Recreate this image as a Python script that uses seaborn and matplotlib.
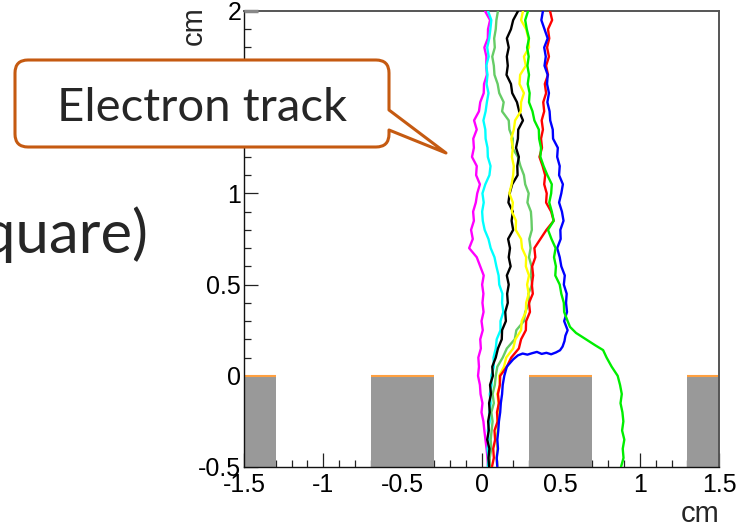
import numpy as np
import pandas as pd
import matplotlib
matplotlib.use("Agg")
import matplotlib.pyplot as plt
from matplotlib.path import Path
from matplotlib.patches import PathPatch
from matplotlib.ticker import MultipleLocator
import seaborn as sns

# ---------------- data ----------------
y_grid = [2.00, 1.95, 1.90, 1.85, 1.80, 1.75, 1.70, 1.65, 1.60, 1.55, 1.50, 1.45, 1.40,
          1.35, 1.30, 1.25, 1.20, 1.15, 1.10, 1.05, 1.00, 0.95, 0.90, 0.85, 0.80, 0.75,
          0.70, 0.65, 0.60, 0.55, 0.50, 0.45, 0.40, 0.35, 0.30, 0.25, 0.20, 0.15, 0.10,
          0.05, 0.00, -0.05, -0.10, -0.15, -0.20, -0.25, -0.30, -0.35, -0.40, -0.45, -0.50]

magenta_x = [0.022, 0.054, 0.041, 0.040, 0.018, 0.031, 0.030, 0.034, 0.016, 0.014,
             -0.008, -0.016, -0.047, -0.030, -0.052, -0.048, -0.060, -0.030, -0.034, -0.010,
             -0.027, -0.036, -0.053, -0.048, -0.066, -0.055, -0.078, -0.030, -0.008, 0.014,
             0.004, 0.012, 0.006, 0.013, 0.000, 0.008, -0.008, -0.004, -0.020, -0.016,
             -0.022, -0.010, -0.006, 0.006, 0.000, 0.012, 0.018, 0.025, 0.032, 0.038, 0.041]

cyan_x = [0.041, 0.062, 0.056, 0.049, 0.036, 0.045, 0.030, 0.038, 0.032, 0.044,
          0.034, 0.026, 0.012, 0.024, 0.026, 0.038, 0.040, 0.057, 0.050, 0.024,
          0.006, 0.014, 0.004, 0.008, 0.020, 0.044, 0.058, 0.082, 0.094, 0.108,
          0.112, 0.132, 0.130, 0.138, 0.120, 0.120, 0.096, 0.090, 0.076, 0.078,
          0.062, 0.064, 0.052, 0.058, 0.050, 0.052, 0.040, 0.046, 0.038, 0.044, 0.040]

lightgreen_x = [0.104, 0.094, 0.090, 0.080, 0.084, 0.068, 0.078, 0.082, 0.102, 0.112,
                0.140, 0.130, 0.172, 0.176, 0.198, 0.194, 0.230, 0.246, 0.268, 0.276,
                0.298, 0.290, 0.312, 0.316, 0.318, 0.302, 0.310, 0.300, 0.316, 0.312,
                0.320, 0.296, 0.302, 0.276, 0.268, 0.220, 0.210, 0.160, 0.134, 0.100,
                0.090, 0.084, 0.070, 0.078, 0.062, 0.070, 0.064, 0.058, 0.062, 0.052, 0.054]

black_x = [0.231, 0.200, 0.186, 0.160, 0.172, 0.160, 0.166, 0.158, 0.186, 0.194,
           0.224, 0.238, 0.262, 0.232, 0.230, 0.218, 0.236, 0.226, 0.228, 0.194,
           0.178, 0.170, 0.198, 0.190, 0.200, 0.168, 0.180, 0.172, 0.184, 0.160,
           0.172, 0.162, 0.166, 0.150, 0.154, 0.130, 0.128, 0.104, 0.090, 0.068,
           0.072, 0.054, 0.060, 0.048, 0.052, 0.042, 0.046, 0.036, 0.050, 0.044, 0.048]

yellow_x = [0.262, 0.250, 0.282, 0.296, 0.300, 0.268, 0.280, 0.244, 0.240, 0.268,
            0.250, 0.248, 0.212, 0.204, 0.188, 0.198, 0.192, 0.204, 0.200, 0.190,
            0.176, 0.198, 0.192, 0.218, 0.216, 0.250, 0.256, 0.282, 0.280, 0.300,
            0.288, 0.298, 0.282, 0.280, 0.254, 0.250, 0.214, 0.200, 0.156, 0.142,
            0.112, 0.116, 0.100, 0.108, 0.102, 0.098, 0.102, 0.094, 0.100, 0.096, 0.100]

red_x = [0.433, 0.446, 0.420, 0.428, 0.414, 0.426, 0.408, 0.420, 0.400, 0.408,
         0.390, 0.396, 0.380, 0.388, 0.376, 0.382, 0.366, 0.386, 0.402, 0.396,
         0.412, 0.408, 0.440, 0.456, 0.410, 0.372, 0.334, 0.340, 0.320, 0.326,
         0.318, 0.324, 0.300, 0.306, 0.282, 0.280, 0.250, 0.236, 0.188, 0.160,
         0.118, 0.116, 0.104, 0.110, 0.098, 0.102, 0.082, 0.086, 0.074, 0.078, 0.066]

blue_y = [2.00, 1.95, 1.90, 1.85, 1.80, 1.75, 1.70, 1.65, 1.60, 1.55, 1.50, 1.45, 1.40,
          1.35, 1.30, 1.25, 1.20, 1.15, 1.10, 1.05, 1.00, 0.95, 0.90, 0.85, 0.80, 0.75,
          0.70, 0.65, 0.60, 0.55, 0.50, 0.45, 0.40, 0.35, 0.30, 0.25, 0.22, 0.19, 0.16,
          0.14, 0.128, 0.118, 0.126, 0.120, 0.131, 0.124, 0.116, 0.122, 0.112, 0.09, 0.07,
          0.05, 0.00, -0.05, -0.10, -0.15, -0.20, -0.25, -0.30, -0.35, -0.40, -0.45, -0.50]
blue_x = [0.388, 0.378, 0.398, 0.418, 0.396, 0.406, 0.398, 0.418, 0.414, 0.426,
          0.416, 0.430, 0.434, 0.450, 0.452, 0.482, 0.478, 0.494, 0.490, 0.514,
          0.504, 0.490, 0.508, 0.518, 0.498, 0.500, 0.478, 0.494, 0.504, 0.526,
          0.520, 0.538, 0.534, 0.540, 0.522, 0.544,
          0.530, 0.524, 0.512, 0.496, 0.470, 0.440, 0.410, 0.380, 0.350, 0.320,
          0.290, 0.260, 0.230, 0.200, 0.180, 0.160, 0.144, 0.134, 0.130, 0.122,
          0.118, 0.110, 0.106, 0.100, 0.104, 0.096, 0.100]

green_y = [2.00, 1.95, 1.90, 1.85, 1.80, 1.75, 1.70, 1.65, 1.60, 1.55, 1.50, 1.45, 1.40,
           1.35, 1.30, 1.25, 1.20, 1.15, 1.10, 1.05, 1.00, 0.95, 0.90, 0.85, 0.80, 0.75,
           0.70, 0.65, 0.60, 0.55, 0.50, 0.45, 0.40, 0.35, 0.30, 0.268, 0.235, 0.196,
           0.168, 0.141, 0.10, 0.05, 0.00, -0.05, -0.10, -0.15, -0.20, -0.25, -0.30,
           -0.35, -0.40, -0.45, -0.50]
green_x = [0.294, 0.276, 0.286, 0.300, 0.288, 0.298, 0.290, 0.300, 0.292, 0.304,
           0.300, 0.322, 0.334, 0.362, 0.364, 0.376, 0.372, 0.392, 0.416, 0.444,
           0.440, 0.428, 0.444, 0.456, 0.420, 0.442, 0.468, 0.458, 0.470, 0.466,
           0.494, 0.504, 0.520, 0.522, 0.544,
           0.559, 0.597, 0.667, 0.717, 0.768, 0.790, 0.822, 0.860, 0.875, 0.886,
           0.878, 0.890, 0.896, 0.888, 0.902, 0.892, 0.897, 0.881]

track_names = ["magenta", "cyan", "lightgreen", "black", "yellow", "red", "blue", "green"]
track_colors = ["#ff00ff", "#00ffff", "#66cc66", "#000000", "#ffff00", "#ff0000", "#0000ff", "#00ee00"]

electrode_left = [-1.5, -0.7, 0.3, 1.3]
electrode_right = [-1.3, -0.3, 0.7, 1.5]
electrode_bottom = -0.5
electrode_top = 0.0

xtick_vals = [-1.5, -1, -0.5, 0, 0.5, 1, 1.5]
xtick_labels = ["-1.5", "-1", "-0.5", "0", "0.5", "1", "1.5"]
ytick_vals = [-0.5, 0, 0.5, 1, 1.5, 2]
ytick_labels = ["-0.5", "0", "0.5", "1", "1.5", "2"]

# ---------------- build frame ----------------
rows = []
series = {
    "magenta": (magenta_x, y_grid), "cyan": (cyan_x, y_grid),
    "lightgreen": (lightgreen_x, y_grid), "black": (black_x, y_grid),
    "yellow": (yellow_x, y_grid), "red": (red_x, y_grid),
    "blue": (blue_x, blue_y), "green": (green_x, green_y),
}
for name in track_names:
    xs, ys = series[name]
    for i, (xv, yv) in enumerate(zip(xs, ys)):
        rows.append({"track": name, "order": i, "x": xv, "y": yv})
df = pd.DataFrame(rows)

sns.set_style("white")
plt.rcParams["font.family"] = ["Liberation Sans", "DejaVu Sans"]

W, H = 754, 527
fig = plt.figure(figsize=(W / 100, H / 100), dpi=100)
fig.patch.set_facecolor("white")

axl, axr, axt, axb = 244, 719, 11, 467
ax = fig.add_axes([axl / W, 1 - axb / H, (axr - axl) / W, (axb - axt) / H])

# electrodes
widths = [r - l for l, r in zip(electrode_left, electrode_right)]
ax.bar(electrode_left, [electrode_top - electrode_bottom] * 4, width=widths,
       bottom=electrode_bottom, align="edge", color="#999999", linewidth=0, zorder=1)
ax.hlines([electrode_top] * 4, electrode_left, electrode_right, colors="#ffa040",
          linewidth=1.5, zorder=2)

palette = dict(zip(track_names, track_colors))
sns.lineplot(data=df, x="x", y="y", hue="track", units="track", palette=palette,
             sort=False, estimator=None, legend=False, linewidth=1.7, ax=ax, zorder=3)

ax.set_xlim(-1.5, 1.5)
ax.set_ylim(-0.5, 2)
ax.plot([-1.5, -1.41], [2, 2], color="#888888", linewidth=2.5, solid_capstyle="butt",
        zorder=4, clip_on=False)

ax.set_xticks(xtick_vals)
ax.set_xticklabels(xtick_labels)
ax.set_yticks(ytick_vals)
ax.set_yticklabels(ytick_labels)
ax.xaxis.set_minor_locator(MultipleLocator(0.1))
ax.yaxis.set_minor_locator(MultipleLocator(0.1))
ax.tick_params(axis="both", which="major", direction="in", length=10, width=0.9,
               color="#222222", labelsize=18, labelcolor="black")
ax.tick_params(axis="both", which="minor", direction="in", length=5, width=0.9,
               color="#222222")
ax.tick_params(axis="x", which="both", top=False, bottom=True, pad=4)
ax.tick_params(axis="y", which="both", right=False, left=True, pad=2)
ax.set_xlabel("")
ax.set_ylabel("")
for side in ["left", "bottom"]:
    ax.spines[side].set_color("#111111")
    ax.spines[side].set_linewidth(1.0)
for side in ["top", "right"]:
    ax.spines[side].set_color("#555555")
    ax.spines[side].set_linewidth(1.4)
    ax.spines[side].set_visible(True)

# axis titles (ROOT style)
fig.text(719 / W, 1 - 500 / H, "cm", ha="right", va="top", fontsize=21)
fig.text(194 / W, 1 - 6 / H, "cm", ha="center", va="top", rotation=90, fontsize=21)

# ---------------- overlay: slide text and callout ----------------
ov = fig.add_axes([0, 0, 1, 1], zorder=10)
ov.set_xlim(0, W)
ov.set_ylim(H, 0)
ov.axis("off")
ov.patch.set_alpha(0)

ov.text(148, 253, "square)", ha="right", va="baseline", fontsize=43,
        family=["Lato", "DejaVu Sans"], color="#262626")

x0, x1, y0, y1, r = 15, 389, 60, 147, 13
tail_top, tail_bot, tip = 110, 130, (446, 153)
verts = [
    (x0 + r, y0), (x1 - r, y0), (x1, y0), (x1, y0 + r),
    (x1, tail_top), tip, (x1, tail_bot),
    (x1, y1 - r), (x1, y1), (x1 - r, y1),
    (x0 + r, y1), (x0, y1), (x0, y1 - r),
    (x0, y0 + r), (x0, y0), (x0 + r, y0), (x0 + r, y0),
]
codes = [Path.MOVETO, Path.LINETO, Path.CURVE3, Path.CURVE3,
         Path.LINETO, Path.LINETO, Path.LINETO,
         Path.LINETO, Path.CURVE3, Path.CURVE3,
         Path.LINETO, Path.CURVE3, Path.CURVE3,
         Path.LINETO, Path.CURVE3, Path.CURVE3, Path.CLOSEPOLY]
ov.add_patch(PathPatch(Path(verts, codes), facecolor="white", edgecolor="#c55a11",
                       linewidth=2.2, joinstyle="round"))
ov.text(202, 121, "Electron track", ha="center", va="baseline", fontsize=34,
        family=["Lato", "DejaVu Sans"], color="#262626")

fig.savefig("out.png", dpi=100, facecolor="white")
